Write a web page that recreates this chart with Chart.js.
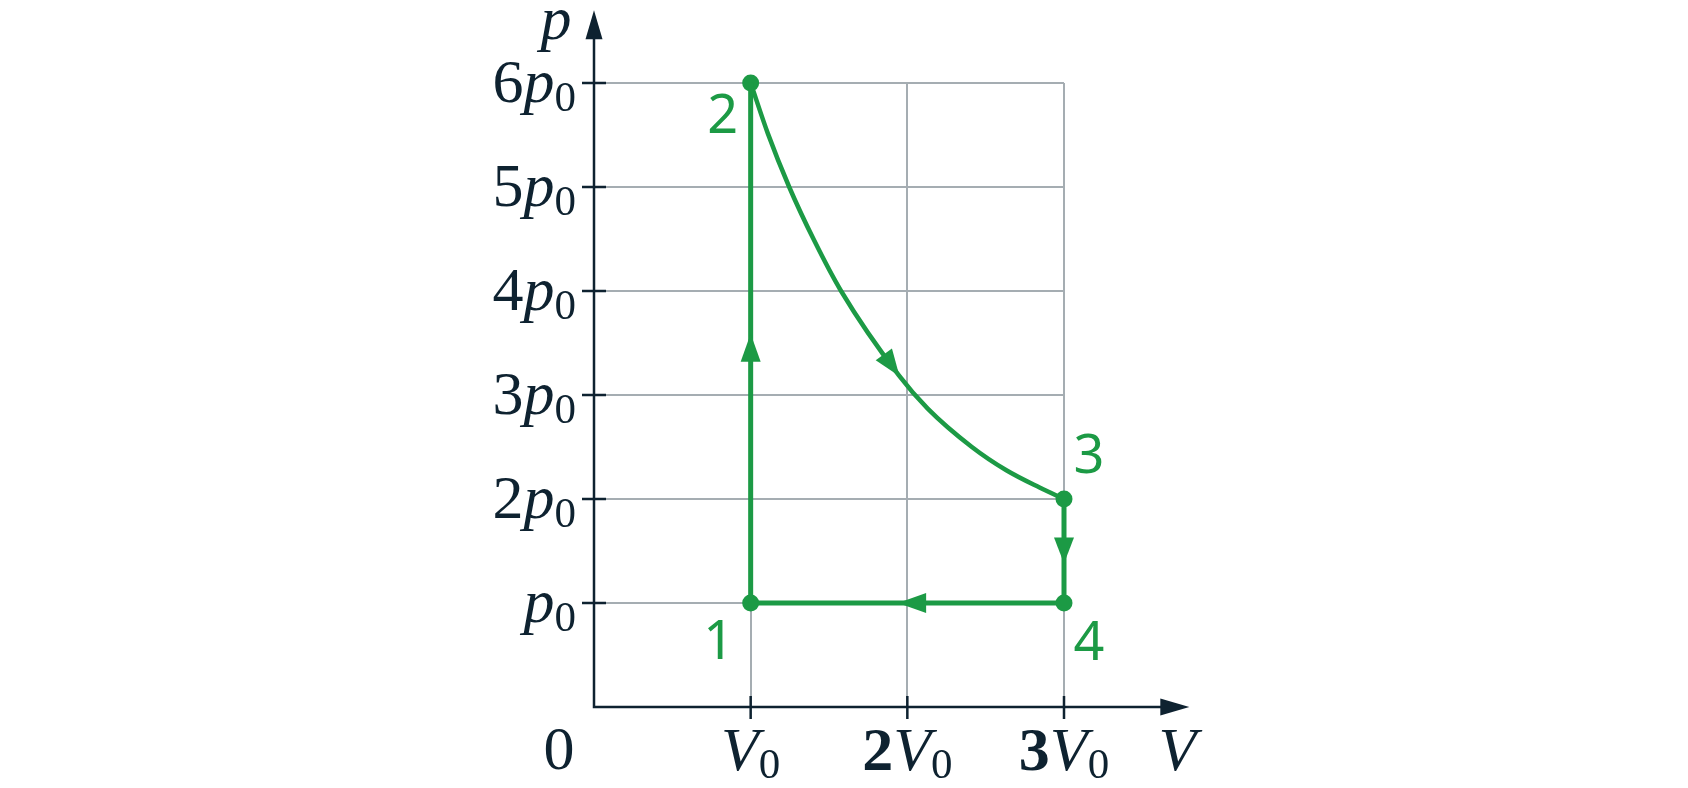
<!DOCTYPE html>
<html>
<head>
<meta charset="utf-8">
<script src="https://cdn.jsdelivr.net/npm/chart.js@4.4.1/dist/chart.umd.min.js"></script>
<style>
  html, body { margin:0; padding:0; background:#fff; }
  canvas { display:block; }
</style>
</head>
<body>
<canvas id="pv" width="1688" height="788"></canvas>
<script>
// tick values and their labels (coefficient in front of p0 / V0)
const xTicks = [1, 2, 3];
const xTickCoef = ['', '2', '3'];
const yTicks = [1, 2, 3, 4, 5, 6];
const yTickCoef = ['', '2', '3', '4', '5', '6'];

// states 1..4 of the cycle (V in V0, p in p0)
const stateNames = ['1', '2', '3', '4'];
const stateV = [1, 1, 3, 3];
const stateP = [1, 6, 2, 1];

// straight parts: 3 -> 4 -> 1 -> 2
const pathV = [3, 3, 1, 1];
const pathP = [2, 1, 1, 6];

// curved part 2 -> 3
const curveV = [1, 1.11, 1.246, 1.405, 1.577, 1.946, 2.13, 2.412, 2.632, 2.844, 3];
const curveP = [6, 5.513, 5, 4.487, 4, 3.189, 2.869, 2.5, 2.276, 2.11, 2];

// arrow heads: from (base) -> to (tip)
const arrowFromV = [1, 1.85, 3, 2.12];
const arrowFromP = [3.32, 3.39, 1.63, 1];
const arrowToV = [1, 1.95, 3, 1.94];
const arrowToP = [3.59, 3.18, 1.38, 1];

// axes run past the grid up to the arrow tips
const axisMaxV = 3.8;
const axisMaxP = 6.7;

const GREEN = '#1c9a45';
const INK = '#0e2230';
const GRID = '#a5adb2';
const SERIF = '"Liberation Serif", "DejaVu Serif", serif';

// label offsets of the state numbers, in px from the point
const stateDx = [-32, -28, 25, 25];
const stateDy = [56, 50, -26, 57];

function pts(xs, ys){ return xs.map((v,i)=>({x:v, y:ys[i]})); }

// draw a run of text pieces (coef, italic letter, subscript) starting at x
function drawParts(ctx, parts, x, y, align){
  let total = 0;
  parts.forEach(p=>{ ctx.font = p.font; p.w = ctx.measureText(p.t).width; total += p.w; });
  let cx = align==='right' ? x - total : align==='center' ? x - total/2 : x;
  ctx.textAlign = 'left';
  ctx.textBaseline = 'alphabetic';
  parts.forEach(p=>{ ctx.font = p.font; ctx.fillText(p.t, cx, y + (p.dy||0)); cx += p.w; });
}

function arrowHead(ctx, x0, y0, x1, y1, half){
  const dx = x1-x0, dy = y1-y0, len = Math.hypot(dx,dy);
  const nx = -dy/len, ny = dx/len;
  ctx.beginPath();
  ctx.moveTo(x1, y1);
  ctx.lineTo(x0 + nx*half, y0 + ny*half);
  ctx.lineTo(x0 - nx*half, y0 - ny*half);
  ctx.closePath();
  ctx.fill();
}

const extras = {
  id: 'extras',
  afterDatasetsDraw(chart){
    const {ctx, scales:{x, y}} = chart;
    ctx.save();
    ctx.fillStyle = GREEN;
    arrowFromV.forEach((v,i)=>{
      arrowHead(ctx, x.getPixelForValue(v), y.getPixelForValue(arrowFromP[i]),
        x.getPixelForValue(arrowToV[i]), y.getPixelForValue(arrowToP[i]), 10);
    });
    // state numbers
    ctx.font = '54px "Noto Sans", "Open Sans", sans-serif';
    ctx.textAlign = 'center';
    ctx.textBaseline = 'alphabetic';
    stateNames.forEach((t,i)=>{
      ctx.fillText(t, x.getPixelForValue(stateV[i]) + stateDx[i], y.getPixelForValue(stateP[i]) + stateDy[i]);
    });
    ctx.restore();
  },
  afterDraw(chart){
    const {ctx, scales:{x, y}} = chart;
    const x0 = x.getPixelForValue(0), y0 = y.getPixelForValue(0);
    const xEnd = x.getPixelForValue(axisMaxV), yEnd = y.getPixelForValue(axisMaxP);
    ctx.save();
    ctx.strokeStyle = INK; ctx.fillStyle = INK;
    ctx.lineWidth = 2.5;
    // axis lines
    ctx.beginPath();
    ctx.moveTo(x0, yEnd + 20); ctx.lineTo(x0, y0); ctx.lineTo(xEnd - 20, y0);
    ctx.stroke();
    arrowHead(ctx, x0, yEnd + 29, x0, yEnd, 8.5);
    arrowHead(ctx, xEnd - 29, y0, xEnd, y0, 8.5);
    // tick marks crossing the axes
    ctx.beginPath();
    yTicks.forEach(v=>{ const py = y.getPixelForValue(v); ctx.moveTo(x0-12, py); ctx.lineTo(x0+12, py); });
    xTicks.forEach(v=>{ const px = x.getPixelForValue(v); ctx.moveTo(px, y0-11); ctx.lineTo(px, y0+12); });
    ctx.stroke();

    const big = '62px ' + SERIF, ital = 'italic 62px ' + SERIF, bold = 'bold 62px ' + SERIF, sub = '43px ' + SERIF;
    yTicks.forEach((v,i)=>{
      const parts = [];
      if(yTickCoef[i]) parts.push({t:yTickCoef[i], font:big});
      parts.push({t:'p', font:ital}, {t:'0', font:sub, dy:9});
      drawParts(ctx, parts, x0 - 18, y.getPixelForValue(v) + 19, 'right');
    });
    xTicks.forEach((v,i)=>{
      const parts = [];
      if(xTickCoef[i]) parts.push({t:xTickCoef[i], font:bold});
      parts.push({t:'V', font:ital}, {t:'0', font:sub, dy:8});
      drawParts(ctx, parts, x.getPixelForValue(v), y0 + 63, 'center');
    });
    // origin and axis names
    drawParts(ctx, [{t:'0', font:big}], x0 - 35, y0 + 62, 'center');
    drawParts(ctx, [{t:'V', font:ital}], xEnd - 12, y0 + 63, 'center');
    drawParts(ctx, [{t:'p', font:ital}], x0 - 38, yEnd + 29, 'center');
    ctx.restore();
  }
};

new Chart(document.getElementById('pv'), {
  type: 'scatter',
  data: {
    datasets: [
      { data: pts(pathV, pathP), showLine: true, borderColor: GREEN, borderWidth: 5,
        pointRadius: 0, clip: false, borderJoinStyle: 'miter' },
      { data: pts(curveV, curveP), showLine: true, borderColor: GREEN, borderWidth: 4.5,
        cubicInterpolationMode: 'monotone', pointRadius: 0, clip: false },
      { data: pts(stateV, stateP), showLine: false, pointRadius: 8.5, pointBorderWidth: 0,
        pointBackgroundColor: GREEN, pointBorderColor: GREEN, clip: false }
    ]
  },
  options: {
    responsive: false,
    devicePixelRatio: 1,
    animation: false,
    layout: { padding: { left: 594, right: 624, top: 83, bottom: 81 } },
    plugins: { legend: { display: false }, tooltip: { enabled: false } },
    scales: {
      x: { type: 'linear', min: 0, max: 3,
        ticks: { display: false, stepSize: 1 },
        grid: { color: GRID, lineWidth: 2, drawTicks: false },
        border: { display: false } },
      y: { type: 'linear', min: 0, max: 6,
        ticks: { display: false, stepSize: 1 },
        grid: { color: GRID, lineWidth: 2, drawTicks: false },
        border: { display: false } }
    }
  },
  plugins: [extras]
});
</script>
</body>
</html>
